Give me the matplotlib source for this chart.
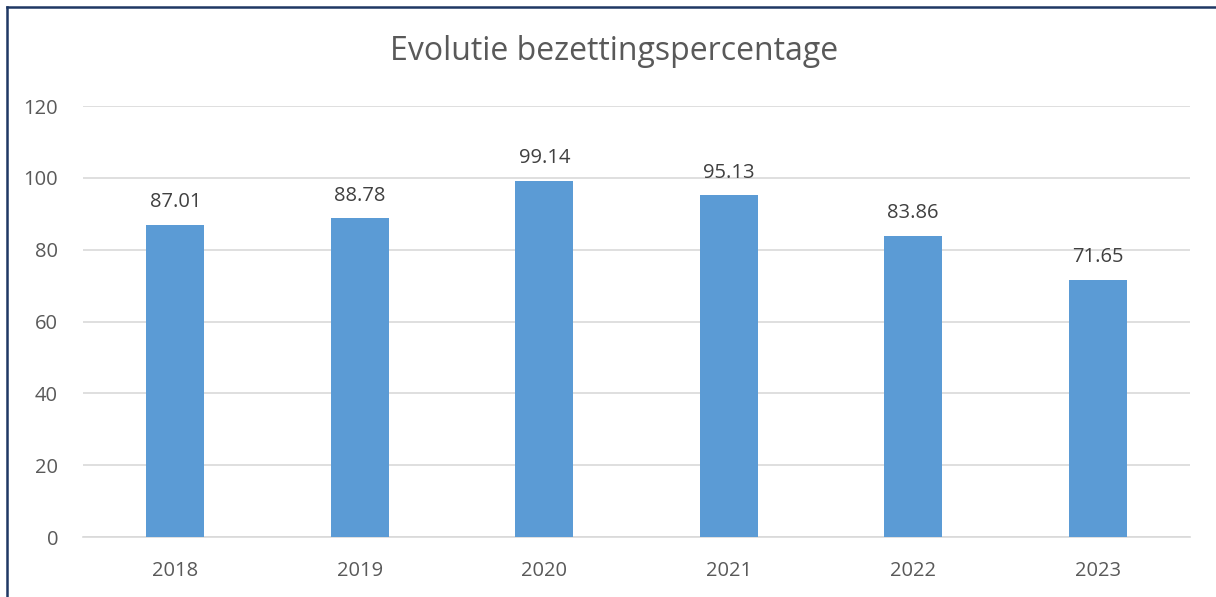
import numpy as np
import matplotlib.pyplot as plt
from matplotlib.lines import Line2D

years = ['2018', '2019', '2020', '2021', '2022', '2023']
percentages = [87.01, 88.78, 99.14, 95.13, 83.86, 71.65]
y_ticks = [0, 20, 40, 60, 80, 100, 120]

plt.rcParams['font.family'] = ['Open Sans', 'DejaVu Sans']

fig = plt.figure(figsize=(12.16, 5.97), dpi=100)
ax = fig.add_axes([0.0683, 0.1005, 0.9103, 0.7219])

x = np.arange(len(years))
ax.bar(x, percentages, width=0.315, color='#5B9BD5', zorder=3)

# data labels above the bars
for xi, val in zip(x, percentages):
    ax.annotate(f'{val:.2f}', (xi, val), xytext=(0, 9), textcoords='offset points',
                ha='center', va='bottom', fontsize=14.5, color='#404040')

ax.set_xlim(-0.5, len(years) - 0.5)
ax.set_ylim(0, 120)
ax.set_yticks(y_ticks)
ax.set_xticks(x)
ax.set_xticklabels(years)
ax.tick_params(axis='both', length=0, labelsize=14.5, colors='#595959')
ax.tick_params(axis='y', pad=18)
ax.tick_params(axis='x', pad=17)
ax.yaxis.grid(True, color='#D9D9D9', linewidth=1.2, zorder=0)
for side in ['top', 'right', 'left']:
    ax.spines[side].set_visible(False)
ax.spines['bottom'].set_color('#D9D9D9')
ax.spines['bottom'].set_linewidth(1.2)

fig.text(0.505, 0.913, 'Evolutie bezettingspercentage', ha='center', va='center',
         fontsize=23, color='#595959')

# dark frame lines at top and left edge
fig.add_artist(Line2D([7/1216, 1.0], [1 - 7/597, 1 - 7/597], color='#1F3864', linewidth=1.8))
fig.add_artist(Line2D([7/1216, 7/1216], [0, 1 - 7/597], color='#1F3864', linewidth=1.8))

fig.savefig('out.png', dpi=100)
